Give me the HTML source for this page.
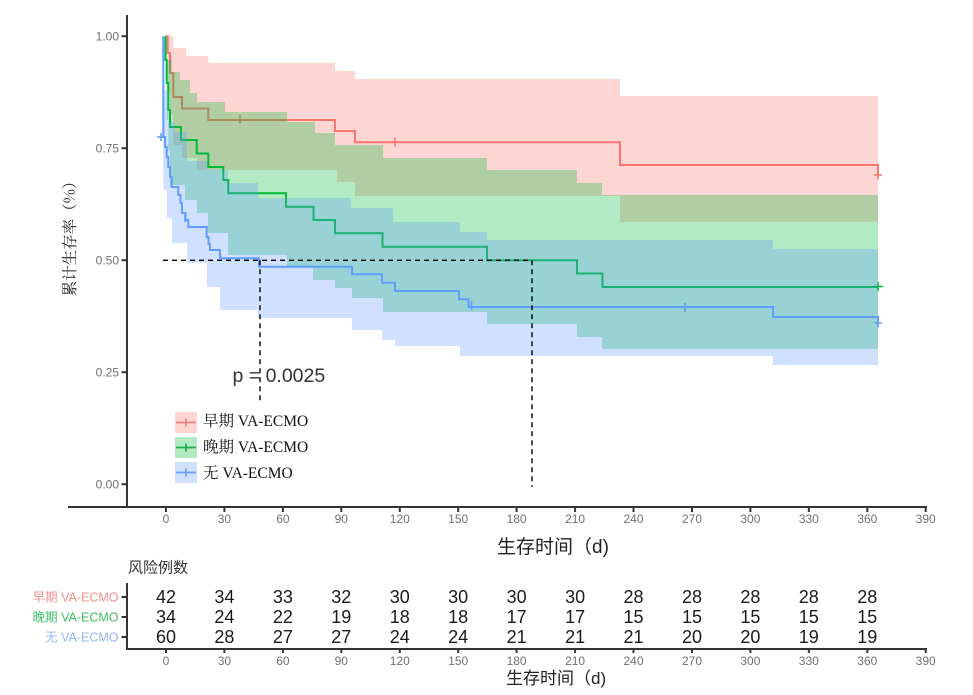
<!DOCTYPE html>
<html><head><meta charset="utf-8"><style>
html,body{margin:0;padding:0;background:#fff;}
svg{display:block;}
.tk{font-family:"Liberation Sans",sans-serif;font-size:12px;fill:#707070;}
.rn{font-family:"Liberation Sans",sans-serif;font-size:18px;fill:#1a1a1a;text-anchor:middle;}
</style></head><body>
<svg width="973" height="695" viewBox="0 0 973 695" xmlns="http://www.w3.org/2000/svg">
<rect width="973" height="695" fill="#fff"/>

<!-- red group -->
<path d="M165.5,36.3 H173.3 V48 H186 V56 H208.3 V63 H335 V71 H355 V79 H620 V96 H878 V222 H620 V196 H355 V182 H337 V170 H197 V158 H182 V145 H173.3 V115 H170 V90 H167.7 V36.3 H165.5 Z" fill="#F8766D" fill-opacity="0.3"/>
<path d="M165.5,36.3 H167.7 V53 H170 V73 H173.3 V97 H182 V108.5 H208.3 V120 H335 V131 H355 V142.3 H620 V165 H878 V175" fill="none" stroke="#F8766D" stroke-width="2"/>
<g stroke="#F8766D" stroke-width="1.6"><path d="M240,114.5 V123.5 M395,137.5 V146.5 M878,170.5 V179.5 M874,175 H882"/></g>

<!-- green group -->
<path d="M165.5,36.3 H167 V60 H172 V72 H180 V80 H190 V93 H197 V102 H225 V112 H287 V122 H315 V133 H335 V145 H383 V158 H487 V170 H577 V183 H602 V195 H878 V349 H602 V337 H577 V324 H487 V312 H383 V298 H352 V288 H335 V280 H313 V266 H287 V255 H228 V233 H208 V213 H197 V200 H185 V185 H170 V150 H168.3 V120 H166.7 V80 H165.5 Z" fill="#00BA38" fill-opacity="0.3"/>
<path d="M165.5,36.3 V60 H166.7 V83 H168.3 V110 H170 V127 H181 V140 H196.7 V153.5 H208.3 V167 H223.3 V180 H228.3 V193.3 H286 V206.7 H313.5 V220 H335 V233.3 H382.5 V246.7 H487 V260.3 H577 V273.5 H602.5 V287 H878" fill="none" stroke="#00BA38" stroke-width="2"/>
<g stroke="#00BA38" stroke-width="1.6"><path d="M878,282 V291 M874,286.5 H883"/></g>

<!-- blue group -->
<path d="M163.3,90 H168.3 V122 H175 V132 H187 V161 H207 V170 H228 V183 H258 V198 H351 V208 H393 V222 H460 V232 H487 V240 H773 V249 H878 V365 H773 V356 H460 V346 H395 V340 H382 V330 H352 V318 H258 V310 H220 V287 H207 V263 H187 V243 H172 V218 H167 V190 H163.3 Z" fill="#619CFF" fill-opacity="0.3"/>
<path d="M163.3,36.3 V137 H165 V147 H166.7 V157 H168.3 V167 H170 V177 H171.7 V187 H178.3 V195 H180.5 V203 H182 V213 H185.5 V220 H188.3 V227 H206.7 V237 H208.5 V244 H210 V250 H220 V258.3 H259 V266.7 H352 V274.3 H382 V282.7 H395 V291 H459 V299.3 H468.5 V307 H773 V317 H878 V323" fill="none" stroke="#619CFF" stroke-width="2"/>
<g stroke="#619CFF" stroke-width="1.6"><path d="M157,137 H165 M161,133 V141 M185,213 V222 M471.5,301 V310 M685,303 V312 M878,318.5 V327.5 M874,323 H882"/></g>

<!-- median dashed lines -->
<g stroke="#000" stroke-width="1.4" stroke-dasharray="5,4" fill="none">
<path d="M163,260.3 H532"/>
<path d="M260,260.3 V404"/>
<path d="M532,260.3 V487"/>
</g>

<!-- axes main -->
<g stroke="#333" stroke-width="2" fill="none">
<path d="M127,15 V508"/>
<path d="M68,507 H927"/>
<path d="M121.5,36.3 H127 M121.5,148.3 H127 M121.5,260.3 H127 M121.5,372.3 H127 M121.5,484.3 H127"/>
<path d="M166,507 V512 M224.4,507 V512 M282.9,507 V512 M341.3,507 V512 M399.8,507 V512 M458.2,507 V512 M516.6,507 V512 M575.1,507 V512 M633.5,507 V512 M692,507 V512 M750.4,507 V512 M808.8,507 V512 M867.3,507 V512 M925.7,507 V512"/>
</g>
<g class="tk" text-anchor="end">
<text x="119" y="40.6">1.00</text>
<text x="119" y="152.6">0.75</text>
<text x="119" y="264.6">0.50</text>
<text x="119" y="376.6">0.25</text>
<text x="119" y="488.6">0.00</text>
</g>
<g class="tk" text-anchor="middle">
<text x="166" y="523">0</text><text x="224.4" y="523">30</text><text x="282.9" y="523">60</text><text x="341.3" y="523">90</text><text x="399.8" y="523">120</text><text x="458.2" y="523">150</text><text x="516.6" y="523">180</text><text x="575.1" y="523">210</text><text x="633.5" y="523">240</text><text x="692" y="523">270</text><text x="750.4" y="523">300</text><text x="808.8" y="523">330</text><text x="867.3" y="523">360</text><text x="925.7" y="523">390</text>
</g>

<text transform="translate(75,235) rotate(-90)" text-anchor="middle" font-family="'Noto Serif CJK SC',serif" font-size="15.5" fill="#222">累计生存率（%）</text>
<text x="497" y="553" font-family="'Liberation Sans','Noto Sans CJK SC',sans-serif" font-size="19" fill="#222">生存时间（d)</text>

<text x="232.5" y="382" font-family="'Liberation Sans',sans-serif" font-size="19.5" fill="#333">p = 0.0025</text>

<!-- legend -->
<rect x="175" y="412" width="22" height="21" fill="#fdd6d3"/>
<rect x="175" y="437" width="22" height="21" fill="#b3eac3"/>
<rect x="175" y="462" width="22" height="21" fill="#d0e1ff"/>
<g stroke-width="1.8" fill="none">
<path d="M176,422.5 H196 M186,418.5 V426.5" stroke="#e8847e"/>
<path d="M176,447.5 H196 M186,443.5 V451.5" stroke="#1db04a"/>
<path d="M176,472.5 H196 M186,468.5 V476.5" stroke="#6a9ef0"/>
</g>
<g font-family="'Liberation Serif','Noto Serif CJK SC',serif" font-size="15.5" fill="#111">
<text x="203" y="426">早期 VA-ECMO</text>
<text x="203" y="452">晚期 VA-ECMO</text>
<text x="203" y="478">无 VA-ECMO</text>
</g>

<!-- risk table -->
<text x="128" y="572.5" font-family="'Noto Sans CJK SC',sans-serif" font-size="15" fill="#333">风险例数</text>
<g font-family="'Liberation Sans','Noto Sans CJK SC',sans-serif" font-size="12.5" text-anchor="end">
<text x="118.5" y="601.5" fill="#F0918B">早期 VA-ECMO</text>
<text x="118.5" y="621.5" fill="#3CBF64">晚期 VA-ECMO</text>
<text x="118.5" y="641.5" fill="#94B5F2">无  VA-ECMO</text>
</g>
<g stroke="#333" stroke-width="2" fill="none">
<path d="M127,583 V650"/>
<path d="M127,649 H927"/>
<path d="M121.5,597 H127 M121.5,617 H127 M121.5,637 H127"/>
<path d="M166,649 V653 M224.4,649 V653 M282.9,649 V653 M341.3,649 V653 M399.8,649 V653 M458.2,649 V653 M516.6,649 V653 M575.1,649 V653 M633.5,649 V653 M692,649 V653 M750.4,649 V653 M808.8,649 V653 M867.3,649 V653 M925.7,649 V653"/>
</g>
<g class="rn">
<text x="166" y="603.2">42</text><text x="224.4" y="603.2">34</text><text x="282.9" y="603.2">33</text><text x="341.3" y="603.2">32</text><text x="399.8" y="603.2">30</text><text x="458.2" y="603.2">30</text><text x="516.6" y="603.2">30</text><text x="575.1" y="603.2">30</text><text x="633.5" y="603.2">28</text><text x="692" y="603.2">28</text><text x="750.4" y="603.2">28</text><text x="808.8" y="603.2">28</text><text x="867.3" y="603.2">28</text>
<text x="166" y="623.2">34</text><text x="224.4" y="623.2">24</text><text x="282.9" y="623.2">22</text><text x="341.3" y="623.2">19</text><text x="399.8" y="623.2">18</text><text x="458.2" y="623.2">18</text><text x="516.6" y="623.2">17</text><text x="575.1" y="623.2">17</text><text x="633.5" y="623.2">15</text><text x="692" y="623.2">15</text><text x="750.4" y="623.2">15</text><text x="808.8" y="623.2">15</text><text x="867.3" y="623.2">15</text>
<text x="166" y="643.2">60</text><text x="224.4" y="643.2">28</text><text x="282.9" y="643.2">27</text><text x="341.3" y="643.2">27</text><text x="399.8" y="643.2">24</text><text x="458.2" y="643.2">24</text><text x="516.6" y="643.2">21</text><text x="575.1" y="643.2">21</text><text x="633.5" y="643.2">21</text><text x="692" y="643.2">20</text><text x="750.4" y="643.2">20</text><text x="808.8" y="643.2">19</text><text x="867.3" y="643.2">19</text>
</g>
<g class="tk" text-anchor="middle">
<text x="166" y="665">0</text><text x="224.4" y="665">30</text><text x="282.9" y="665">60</text><text x="341.3" y="665">90</text><text x="399.8" y="665">120</text><text x="458.2" y="665">150</text><text x="516.6" y="665">180</text><text x="575.1" y="665">210</text><text x="633.5" y="665">240</text><text x="692" y="665">270</text><text x="750.4" y="665">300</text><text x="808.8" y="665">330</text><text x="867.3" y="665">360</text><text x="925.7" y="665">390</text>
</g>
<text x="506" y="684" font-family="'Liberation Sans','Noto Sans CJK SC',sans-serif" font-size="17" fill="#222">生存时间（d)</text>
</svg>
</body></html>
